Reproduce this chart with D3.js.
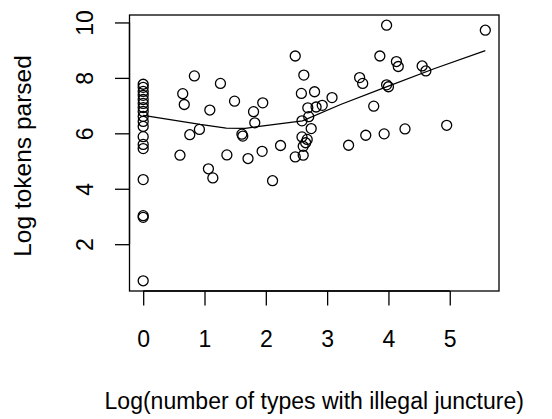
<!DOCTYPE html>
<html>
<head>
<meta charset="utf-8">
<script src="https://cdn.jsdelivr.net/npm/d3@7"></script>
<style>
  html, body { margin: 0; padding: 0; background: #fff; }
  svg { display: block; }
  text { font-family: "Liberation Sans", Arial, sans-serif; fill: #000; }
</style>
</head>
<body>
<script>
// Log number of illegal-juncture types (x) vs log tokens parsed (y)
const xVals = [
  0, 0, 0, 0, 0, 0, 0, 0, 0, 0, 0, 0, 0, 0, 0, 0, 0, 0,
  0.835, 1.26, 0.645, 0.67, 1.49, 1.087, 1.80, 1.82, 0.917, 0.76,
  1.61, 1.624, 0.60, 1.365, 1.71, 1.064, 1.136, 1.95, 1.94,
  2.48, 2.62, 2.58, 2.795, 3.08, 2.685, 2.82, 2.92, 2.70, 2.59,
  2.74, 2.59, 2.675, 2.65, 2.61, 2.24, 2.48, 2.61, 3.35,
  3.97, 5.58, 3.86, 4.13, 4.16, 4.55, 4.61, 3.53, 3.58, 3.97,
  4.00, 3.76, 4.95, 4.27, 3.93, 3.63, 2.11
];
const yVals = [
  7.77, 7.66, 7.51, 7.37, 7.22, 7.08, 6.93, 6.79, 6.61, 6.43, 6.25, 5.88, 5.60, 5.45, 4.33, 3.03, 2.97, 0.68,
  8.07, 7.80, 7.43, 7.04, 7.16, 6.84, 6.78, 6.38, 6.14, 5.95,
  5.97, 5.90, 5.21, 5.22, 5.09, 4.72, 4.39, 7.10, 5.35,
  8.79, 8.10, 7.44, 7.50, 7.29, 6.92, 6.95, 7.01, 6.60, 6.45,
  6.17, 5.87, 5.78, 5.66, 5.53, 5.56, 5.15, 5.21, 5.57,
  9.90, 9.72, 8.79, 8.59, 8.41, 8.43, 8.25, 8.01, 7.80, 7.75,
  7.68, 6.98, 6.29, 6.16, 5.98, 5.93, 4.29
];

// Smoothed (lowess) trend
const fitX = [0, 0.928, 1.354, 1.665, 1.862, 2.598, 3.22, 3.925, 4.743, 5.58];
const fitY = [6.65, 6.32, 6.19, 6.18, 6.24, 6.45, 7.04, 7.64, 8.33, 8.98];

const xTicks = [0, 1, 2, 3, 4, 5];
const yTicks = [2, 4, 6, 8, 10];

const xLabel = "Log(number of types with illegal juncture)";
const yLabel = "Log tokens parsed";

const W = 552, H = 419;
const plot = { left: 129.5, right: 499, top: 15, bottom: 291 };
const fontSize = 23;
const tickLen = 14.5;

// 4% padding on each side, as in base graphics
function padded(vals) {
  const [lo, hi] = d3.extent(vals);
  const p = (hi - lo) * 0.04;
  return [lo - p, hi + p];
}

const x = d3.scaleLinear().domain(padded(xVals)).range([plot.left, plot.right]);
const y = d3.scaleLinear().domain(padded(yVals)).range([plot.bottom, plot.top]);

const svg = d3.select("body").append("svg").attr("width", W).attr("height", H);

// points
const pts = d3.zip(xVals, yVals);
svg.append("g")
  .selectAll("circle")
  .data(pts)
  .join("circle")
  .attr("cx", d => x(d[0]))
  .attr("cy", d => y(d[1]))
  .attr("r", 5)
  .attr("fill", "none")
  .attr("stroke", "#000")
  .attr("stroke-width", 1.3);

// trend line
svg.append("path")
  .datum(d3.zip(fitX, fitY))
  .attr("d", d3.line().x(d => x(d[0])).y(d => y(d[1])))
  .attr("fill", "none")
  .attr("stroke", "#000")
  .attr("stroke-width", 1.3);

// frame
svg.append("rect")
  .attr("x", plot.left).attr("y", plot.top)
  .attr("width", plot.right - plot.left).attr("height", plot.bottom - plot.top)
  .attr("fill", "none").attr("stroke", "#000").attr("stroke-width", 1.3);

// x axis
const xAxis = d3.axisBottom(x).tickValues(xTicks).tickSize(tickLen).tickPadding(0).tickFormat(d3.format("d"));
const gx = svg.append("g").attr("transform", `translate(0,${plot.bottom})`).call(xAxis);
gx.select(".domain").attr("d", `M${x(xTicks[0])},0H${x(xTicks[xTicks.length - 1])}`).attr("stroke-width", 1.3);
gx.selectAll(".tick line").attr("stroke-width", 1.3);
gx.selectAll(".tick text")
  .attr("y", 56).attr("dy", null)
  .attr("font-size", fontSize)
  .attr("font-family", "Liberation Sans, Arial, sans-serif");

// y axis
const yAxis = d3.axisLeft(y).tickValues(yTicks).tickSize(tickLen).tickPadding(0).tickFormat(d3.format("d"));
const gy = svg.append("g").attr("transform", `translate(${plot.left},0)`).call(yAxis);
gy.select(".domain").attr("d", `M0,${y(yTicks[0])}V${y(yTicks[yTicks.length - 1])}`).attr("stroke-width", 1.3);
gy.selectAll(".tick line").attr("stroke-width", 1.3);
gy.selectAll(".tick text")
  .attr("x", null).attr("dy", null)
  .attr("text-anchor", "middle")
  .attr("transform", "translate(-37,0) rotate(-90)")
  .attr("font-size", fontSize)
  .attr("font-family", "Liberation Sans, Arial, sans-serif");

// axis titles
svg.append("text")
  .attr("x", (plot.left + plot.right) / 2)
  .attr("y", 409)
  .attr("text-anchor", "middle")
  .attr("font-size", fontSize)
  .text(xLabel);

svg.append("text")
  .attr("transform", `translate(31,156) rotate(-90)`)
  .attr("text-anchor", "middle")
  .attr("font-size", 24.5)
  .text(yLabel);
</script>
</body>
</html>
